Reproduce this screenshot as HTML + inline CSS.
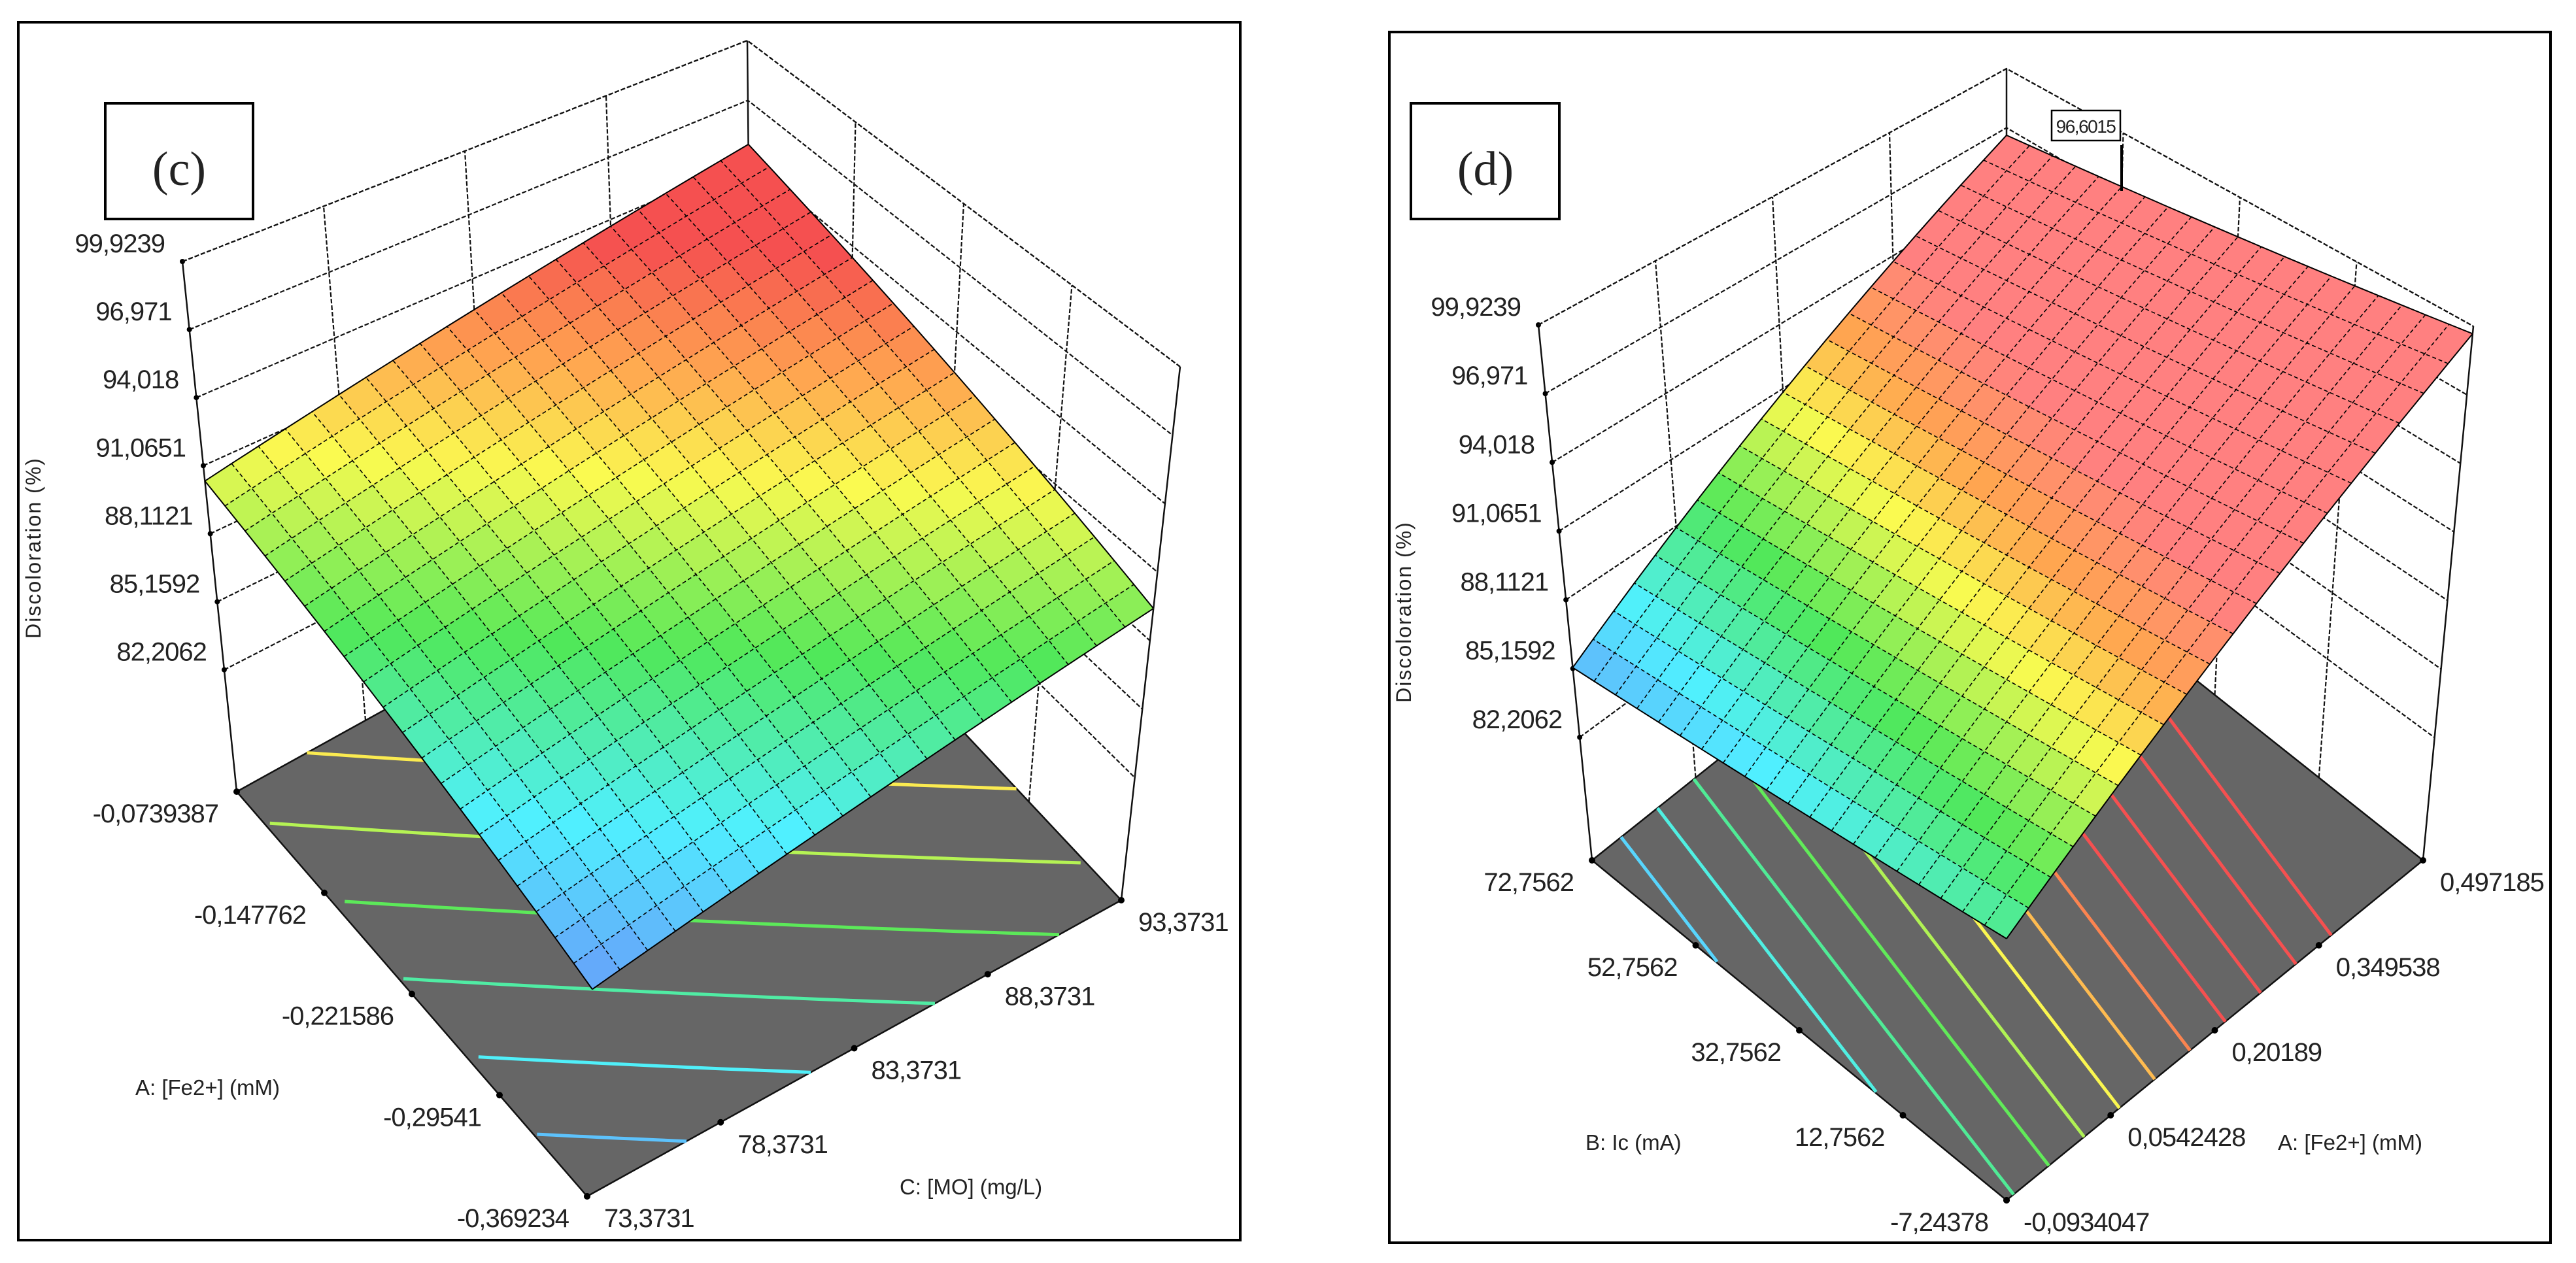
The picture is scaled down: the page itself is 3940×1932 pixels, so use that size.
<!DOCTYPE html>
<html><head><meta charset="utf-8"><style>
html,body{margin:0;padding:0;background:#fff;}
svg{display:block;}
text{font-family:"Liberation Sans",sans-serif;fill:#222;}
</style></head><body>
<svg id="fig" width="3940" height="1932" viewBox="0 0 3940 1932" xmlns="http://www.w3.org/2000/svg">
<rect x="28" y="34" width="1869" height="1863" fill="#fff" stroke="#000" stroke-width="4"/>
<rect x="2125" y="49" width="1776" height="1852" fill="#fff" stroke="#000" stroke-width="4"/>
<g id="pc"></g>
<g id="pd"></g>
<rect x="161" y="158" width="226" height="177" fill="#fff" stroke="#000" stroke-width="4"/>
<text x="274" y="283" text-anchor="middle" style="font-family:'Liberation Serif',serif;font-size:74px">(c)</text>
<rect x="2158" y="158" width="227" height="177" fill="#fff" stroke="#000" stroke-width="4"/>
<text x="2272" y="283" text-anchor="middle" style="font-family:'Liberation Serif',serif;font-size:74px">(d)</text>
</svg>
<script>
// ---- data ----
const zTicks = [82.2062, 85.1592, 88.1121, 91.0651, 94.018, 96.971, 99.9239];
const zTickLabels = ["82,2062","85,1592","88,1121","91,0651","94,018","96,971","99,9239"];
const zMin = 76.92, zMax = 99.9239;
// panel c: u = A [Fe2+], v = C [MO]
const cUTickLabels = ["-0,369234","-0,29541","-0,221586","-0,147762","-0,0739387"];
const cVTickLabels = ["73,3731","78,3731","83,3731","88,3731","93,3731"];
// surface heights at corners [u0v0, u1v0, u0v1, u1v1]
const cCornerZ = [85.2, 90.4, 89.5, 94.8];
const cContours = [86, 87, 88, 89, 90, 91, 92, 93, 94];
// panel d: u = B Ic, v = A [Fe2+]
const dUTickLabels = ["-7,24378","12,7562","32,7562","52,7562","72,7562"];
const dVTickLabels = ["-0,0934047","0,0542428","0,20189","0,349538","0,497185"];
const dCornerZ = [87.8, 85.2, 99.6, 96.6];
const dContours = [86, 87, 88, 89, 90, 91, 92, 93, 94, 95, 96, 97];
const dMaxLabel = "96,6015";

const NS = "http://www.w3.org/2000/svg";
function mk(parent, tag, attrs){const e=document.createElementNS(NS,tag);for(const k in attrs)e.setAttribute(k,attrs[k]);parent.appendChild(e);return e;}

const baseStops=[[0,[100,170,250]],[0.18,[80,240,255]],[0.42,[80,232,90]],[0.66,[250,250,80]],[0.82,[255,165,80]],[1,[245,80,80]]];
function cmap(t,top){t=Math.max(0,Math.min(1,t));
  const c=baseStops.map(s=>[s[0],s[1]]);if(top)c[c.length-1]=[1,top];
  for(let i=1;i<c.length;i++){if(t<=c[i][0]){const a=c[i-1],b=c[i],f=(t-a[0])/(b[0]-a[0]);const col=a[1].map((x,j)=>Math.round(x+(b[1][j]-x)*f));return `rgb(${col})`;}}
  return `rgb(${c[c.length-1][1]})`;}

function panel(g, C, cornerZ, contours, uLab, vLab, cfg){
  const lerp=(a,b,t)=>[a[0]+(b[0]-a[0])*t,a[1]+(b[1]-a[1])*t];
  function P(u,v,w){
    const f=lerp(lerp(C.F00,C.Fu,u),lerp(C.Fv,C.Fuv,u),v);
    const t=lerp(lerp(C.T00,C.Tu,u),lerp(C.Tv,C.Tuv,u),v);
    return lerp(f,t,w);
  }
  const W=z=>(z-zMin)/(zMax-zMin);
  const Z=(u,v)=>cornerZ[0]*(1-u)*(1-v)+cornerZ[1]*u*(1-v)+cornerZ[2]*(1-u)*v+cornerZ[3]*u*v;
  const pts=a=>a.map(p=>p[0].toFixed(1)+','+p[1].toFixed(1)).join(' ');
  const dash={stroke:'#111','stroke-width':2.2,'stroke-dasharray':'7 3',fill:'none'};
  const walls=mk(g,'g',{});
  
  
  zTicks.forEach(z=>{const w=W(z);
    const l=mk(walls,'polyline',Object.assign({points:pts([P(1,0,w),P(1,1,w),P(0,1,w)])},dash));
    
    });
  for(let i=1;i<4;i++){const t=i/4;
    const a=mk(walls,'line',Object.assign({x1:P(1,t,0)[0],y1:P(1,t,0)[1],x2:P(1,t,1)[0],y2:P(1,t,1)[1]},dash));
    
    
    const b=mk(walls,'line',Object.assign({x1:P(t,1,0)[0],y1:P(t,1,0)[1],x2:P(t,1,1)[0],y2:P(t,1,1)[1]},dash));
    
    }
  [[1,0],[1,1],[0,1]].forEach(([u,v])=>{const e=mk(walls,'line',{x1:P(u,v,0)[0],y1:P(u,v,0)[1],x2:P(u,v,1)[0],y2:P(u,v,1)[1],stroke:'#111','stroke-width':2.5});
    
    });
  const fl=mk(g,'polygon',{points:pts([P(0,0,0),P(1,0,0),P(1,1,0),P(0,1,0)]),fill:'#666',stroke:'#111','stroke-width':2.5});
  
  
  contours.forEach(L=>{const seg=[];
    for(let k=0;k<=60;k++){const u=k/60;const a=Z(u,0),b=Z(u,1)-a;if(Math.abs(b)<1e-9)continue;const v=(L-a)/b;if(v>=0&&v<=1)seg.push(P(u,v,0));}
    if(seg.length<2){for(let k=0;k<=60;k++){const v=k/60;const a=Z(0,v),b=Z(1,v)-a;if(Math.abs(b)<1e-9)continue;const u=(L-a)/b;if(u>=0&&u<=1)seg.push(P(u,v,0));}}
    if(seg.length>=2){const c=mk(g,'polyline',{points:pts(seg),fill:'none',stroke:cmap((L-cfg.cLo)/(cfg.cHi-cfg.cLo),null),'stroke-width':5});
      
      }
  });
  for(let i=0;i<5;i++){const t=i/4;
    const pu=P(t,0,0),pv=P(0,t,0);
    const d1=mk(g,'circle',{cx:pu[0],cy:pu[1],r:5,fill:'#000'});
    
    
    const d2=mk(g,'circle',{cx:pv[0],cy:pv[1],r:5,fill:'#000'});
    
    
    const t1=mk(g,'text',{x:pu[0]-28,y:pu[1]+47,'text-anchor':'end','font-size':40,'letter-spacing':-1});
    t1.textContent=uLab[i];
    
    
    const t2=mk(g,'text',{x:pv[0]+26,y:pv[1]+47,'text-anchor':'start','font-size':40,'letter-spacing':-1});
    t2.textContent=vLab[i];
    
    }
  zTicks.forEach((z,i)=>{const p=P(1,0,W(z));
    const d=mk(g,'circle',{cx:p[0],cy:p[1],r:4,fill:'#000'});
    
    
    const t=mk(g,'text',{x:p[0]-27,y:p[1]-14,'text-anchor':'end','font-size':40,'letter-spacing':-1});
    t.textContent=zTickLabels[i];
    
    });
  const N=20;const sg=mk(g,'g',{});
  
  
  for(let i=N-1;i>=0;i--)for(let j=N-1;j>=0;j--){
    const u0=i/N,u1=(i+1)/N,v0=j/N,v1=(j+1)/N;
    const q=[P(u0,v0,W(Z(u0,v0))),P(u1,v0,W(Z(u1,v0))),P(u1,v1,W(Z(u1,v1))),P(u0,v1,W(Z(u0,v1)))];
    const zc=Z((u0+u1)/2,(v0+v1)/2);
    const c=cmap((zc-cfg.cLo)/(cfg.cHi-cfg.cLo),cfg.top);
    const cell=mk(sg,'polygon',{points:pts(q),fill:c,stroke:c,'stroke-width':1});
    
    }
  for(let i=0;i<=N;i++){const a=[],b=[];
    for(let k=0;k<=N;k++){const t=k/N;a.push(P(i/N,t,W(Z(i/N,t))));b.push(P(t,i/N,W(Z(t,i/N))));}
    const l1=mk(sg,'polyline',{points:pts(a),fill:'none',stroke:'#000','stroke-width':(i==0||i==N)?2:1.6,'stroke-dasharray':(i==0||i==N)?'none':'6 4'});
    
    
    const l2=mk(sg,'polyline',{points:pts(b),fill:'none',stroke:'#000','stroke-width':(i==0||i==N)?2:1.6,'stroke-dasharray':(i==0||i==N)?'none':'6 4'});
    
    }
  const te=mk(g,'polyline',Object.assign({points:pts([P(1,0,1),P(1,1,1),P(0,1,1)])},dash));
  
  
  const zt=mk(g,'text',{x:cfg.zt[0],y:cfg.zt[1],'text-anchor':'middle','font-size':32,'letter-spacing':2,transform:`rotate(-90 ${cfg.zt[0]} ${cfg.zt[1]})`});
  zt.textContent='Discoloration (%)';
  
  
  const ut=mk(g,'text',{x:cfg.ut[0],y:cfg.ut[1],'font-size':33});
  ut.textContent=cfg.utText;
  
  
  const vt=mk(g,'text',{x:cfg.vt[0],y:cfg.vt[1],'font-size':33});
  vt.textContent=cfg.vtText;
  
  
  return {P,W,Z};
}

panel(document.getElementById('pc'),
 {F00:[898,1830],Fu:[362,1211],Fv:[1715,1377],Fuv:[1150,775],T00:[920,950],Tu:[279,400],Tv:[1805,561],Tuv:[1143,62]},
 cCornerZ,cContours,cUTickLabels,cVTickLabels,
 {cLo:85.5,cHi:93.5,top:null,zt:[62,838],ut:[207,1675],utText:'A: [Fe2+] (mM)',vt:[1376,1827],vtText:'C: [MO] (mg/L)'});

panel(document.getElementById('pd'),
 {F00:[3069,1836],Fu:[2435,1316],Fv:[3706,1316],Fuv:[3069,810],T00:[3069,990],Tu:[2353,497],Tv:[3783,499],Tuv:[3069,105]},
 dCornerZ,dContours,dUTickLabels,dVTickLabels,
 {cLo:85.0,cHi:94.0,top:[255,128,128],zt:[2158,936],ut:[2425,1759],utText:'B: Ic (mA)',vt:[3484,1759],vtText:'A: [Fe2+] (mM)'});

const gd=document.getElementById('pd');
const lb=mk(gd,'rect',{x:3138,y:169,width:105,height:46,fill:'#fff',stroke:'#000','stroke-width':2.5});


const lt=mk(gd,'text',{x:3190,y:203,'text-anchor':'middle','font-size':28,'letter-spacing':-1.5});
lt.textContent=dMaxLabel;


const ll=mk(gd,'line',{x1:3245,y1:222,x2:3245,y2:292,stroke:'#000','stroke-width':4});


</script>
</body></html>
